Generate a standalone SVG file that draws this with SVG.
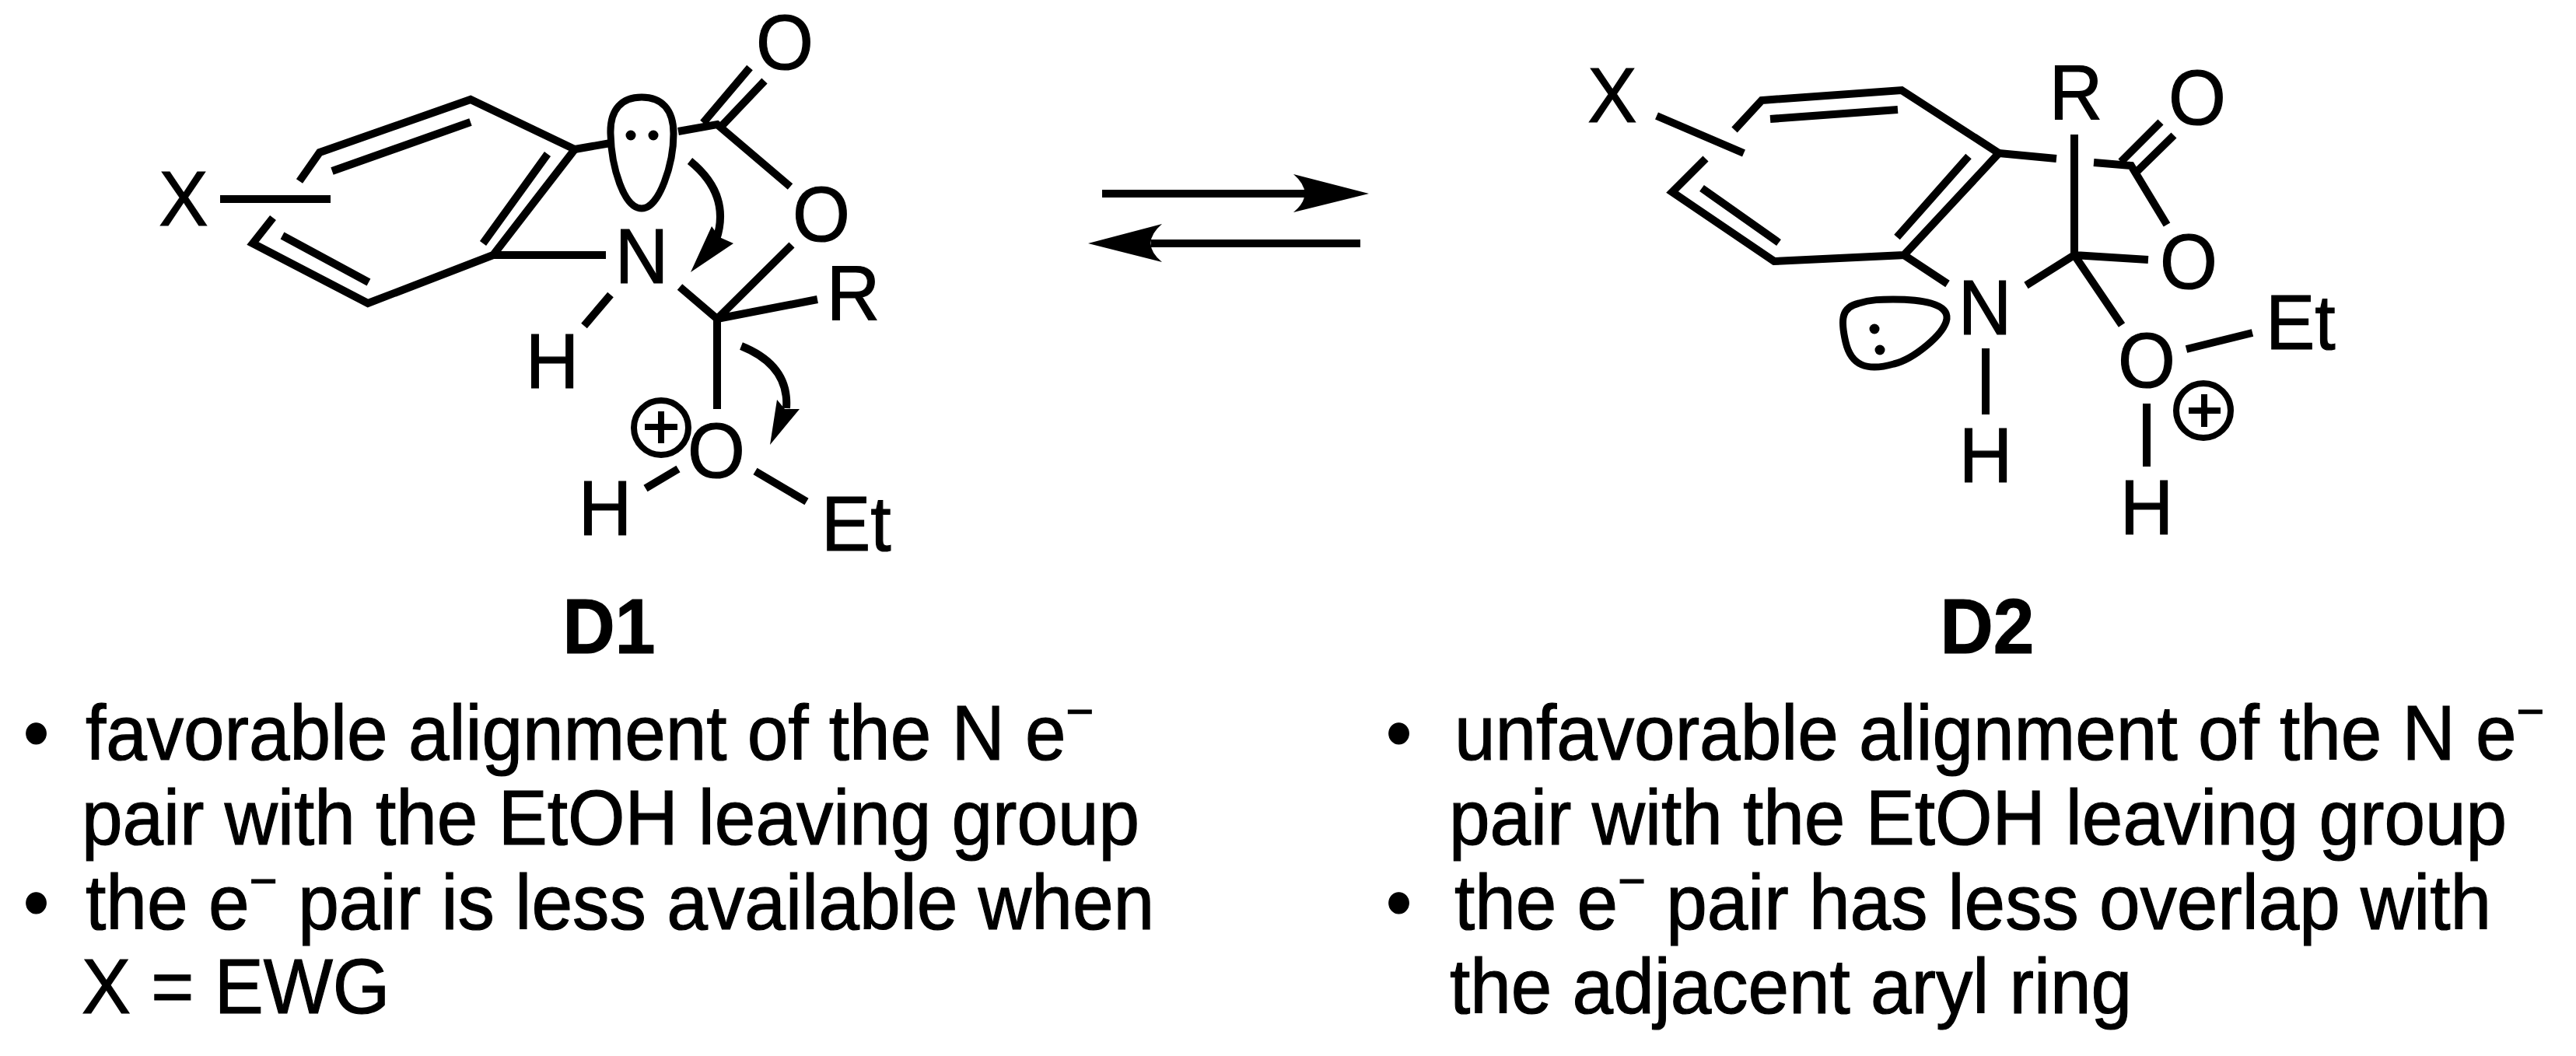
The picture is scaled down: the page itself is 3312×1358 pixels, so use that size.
<svg xmlns="http://www.w3.org/2000/svg" width="3312" height="1358" viewBox="0 0 3312 1358">
<style>
text{font-family:"Liberation Sans",Arial,sans-serif;font-size:100px;fill:#000;stroke:#000;stroke-width:1.2px}
.m{text-anchor:middle}
.b{font-weight:bold}
.bond{fill:none;stroke:#000;stroke-width:10;stroke-linejoin:miter;stroke-linecap:butt}
.lobe{fill:#fff;stroke:#000;stroke-width:9}
.chg{fill:none;stroke:#000;stroke-width:8}
.fill{fill:#000;stroke:none}
</style>
<rect width="3312" height="1358" fill="#fff"/>
<g id="D1">
<path class="bond" d="M385 233L411 196L605 128L739 192L634 328L473 390L325 313L351 280M427 220L605 157M704 198L621 313M474 363L363 303M283 256H425"/>
<path class="bond" d="M739 192L785 184M872 169L922 160L1016 240M964 87L904 158M983 104L925 165M634 328H779M785 379L751 419M1018 315L922 410L874 369M922 410L1051 385M922 410V526M872 603L830 628M971 606L1037 645"/>
<path class="lobe" d="M825 125C850 125 866 140 866 172C866 210 848 268 825 268C802 268 786 215 785 172C784 140 800 125 825 125Z"/>
<ellipse class="fill" cx="811" cy="174" rx="6.5" ry="6.5"/><ellipse class="fill" cx="840" cy="174" rx="6.5" ry="6.5"/>
<path class="bond" d="M887 207Q940 250 921 308M953 445Q1015 470 1011 525"/>
<path class="fill" d="M888 350L915 291L925 305L943 313ZM990 572L999 514L1009 526L1028 526Z"/>
<circle class="chg" cx="850" cy="550" r="35"/><path class="chg" d="M829 549H871M850 529V570"/>
<text transform="translate(236 290) scale(.95 1)" class="m">X</text>
<text transform="translate(1009 89) scale(.95 1)" class="m">O</text>
<text transform="translate(1056 310) scale(.95 1)" class="m">O</text>
<text transform="translate(825 364) scale(.95 1)" class="m">N</text>
<text transform="translate(710 499) scale(.95 1)" class="m">H</text>
<text transform="translate(1097 412) scale(.95 1)" class="m">R</text>
<text transform="translate(921 614) scale(.95 1)" class="m">O</text>
<text transform="translate(778 688) scale(.95 1)" class="m">H</text>
<text transform="translate(1056 708) scale(.95 1)">Et</text>
</g>
<g id="connectors">
<path class="bond" d="M1417 249H1678M1480 313H1749"/>
<path class="fill" d="M1760 249L1663 224Q1692 249 1663 273ZM1399 313L1494 288Q1465 313 1494 337Z"/>
</g>
<g id="D2">
<path class="bond" d="M2230 167L2265 129L2445 116L2570 197L2448 328L2281 336L2150 247L2193 204M2276 153L2440 141M2531 201L2439 305M2287 312L2188 242M2130 149L2242 197"/>
<path class="bond" d="M2570 197L2644 204M2692 209L2740 213L2786 289M2778 157L2727 208M2795 174L2746 222M2667 173V328L2762 334M2667 328L2605 367M2667 328L2728 418M2448 328L2504 365M2553 448V533M2811 449L2896 428M2760 519V600"/>
<path class="lobe" d="M2434 385C2470 385 2505 390 2503 410C2500 430 2460 462 2435 468C2400 478 2380 470 2373 440C2366 410 2368 395 2390 390C2405 385 2420 385 2434 385Z"/>
<ellipse class="fill" cx="2410" cy="423" rx="6.5" ry="6.5"/><ellipse class="fill" cx="2417" cy="450" rx="6.5" ry="6.5"/>
<circle class="chg" cx="2833" cy="528" r="35"/><path class="chg" d="M2814 528H2855M2834 507V549"/>
<text transform="translate(2073 157) scale(.95 1)" class="m">X</text>
<text transform="translate(2669 154) scale(.95 1)" class="m">R</text>
<text transform="translate(2825 160) scale(.95 1)" class="m">O</text>
<text transform="translate(2814 371) scale(.95 1)" class="m">O</text>
<text transform="translate(2552 430) scale(.95 1)" class="m">N</text>
<text transform="translate(2553 620) scale(.95 1)" class="m">H</text>
<text transform="translate(2760 498) scale(.95 1)" class="m">O</text>
<text transform="translate(2760 687) scale(.95 1)" class="m">H</text>
<text transform="translate(2913 449) scale(.95 1)">Et</text>
</g>
<g id="notes-D1">
<text transform="translate(783 840) scale(.93 1)" class="m b">D1</text>
<text transform="translate(30 977) scale(.945 1)">•</text>
<text transform="translate(110 977) scale(.945 1)">favorable alignment of the N e<tspan font-size="65" dy="-40">−</tspan></text>
<text transform="translate(105 1086) scale(.945 1)">pair with the EtOH leaving group</text>
<text transform="translate(30 1195) scale(.945 1)">•</text>
<text transform="translate(110 1195) scale(.948 1)">the e<tspan font-size="65" dy="-40">−</tspan><tspan dy="40"> pair is less available when</tspan></text>
<text transform="translate(105 1303) scale(.945 1)">X = EWG</text>
</g>
<g id="notes-D2">
<text transform="translate(2555 840) scale(.945 1)" class="m b">D2</text>
<text transform="translate(1782 977) scale(.945 1)">•</text>
<text transform="translate(1870 977) scale(.945 1)">unfavorable alignment of the N e<tspan font-size="65" dy="-40">−</tspan></text>
<text transform="translate(1863 1086) scale(.945 1)">pair with the EtOH leaving group</text>
<text transform="translate(1782 1195) scale(.945 1)">•</text>
<text transform="translate(1870 1195) scale(.945 1)">the e<tspan font-size="65" dy="-40">−</tspan><tspan dy="40"> pair has less overlap with</tspan></text>
<text transform="translate(1864 1303) scale(.945 1)">the adjacent aryl ring</text>
</g>
</svg>
